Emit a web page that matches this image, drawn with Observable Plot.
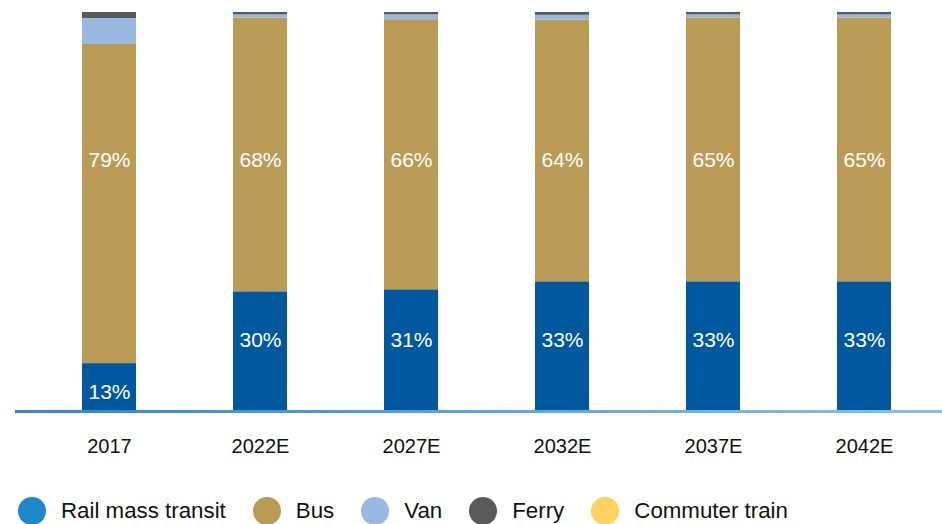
<!DOCTYPE html>
<html>
<head>
<meta charset="utf-8">
<script src="https://cdn.jsdelivr.net/npm/d3@7"></script>
<script src="https://cdn.jsdelivr.net/npm/@observablehq/plot@0.6"></script>
<style>
  html, body { margin: 0; padding: 0; background: #fff; }
  body { width: 942px; height: 524px; overflow: hidden; font-family: "Liberation Sans", Arial, Helvetica, sans-serif; }
  #legend { display: flex; align-items: center; height: 28px; margin-left: 18px; font-size: 22.3px; color: #111; }
  .item { display: flex; align-items: center; margin-right: 27px; white-space: nowrap; }
  .dot { width: 28px; height: 28px; border-radius: 50%; margin-right: 15px; flex: none; }
</style>
</head>
<body>
<div id="chart"></div>
<div id="legend"></div>
<script>
// ---- Data (shares of trips, %) ----
const years = ["2017", "2022E", "2027E", "2032E", "2037E", "2042E"];
const modes = ["Rail mass transit", "Bus", "Van", "Ferry", "Commuter train"];
const rail     = [12, 30, 30.5, 32.5, 32.5, 32.5];
const bus      = [80, 68.6, 67.7, 65.6, 66.1, 66.1];
const van      = [6.5, 0.8, 1.2, 1.2, 0.8, 0.8];
const ferry    = [1.5, 0.6, 0.6, 0.7, 0.6, 0.6];
const commuter = [0, 0, 0, 0, 0, 0];
const railLabels = ["13%", "30%", "31%", "33%", "33%", "33%"];
const busLabels  = ["79%", "68%", "66%", "64%", "65%", "65%"];

const barColors    = ["#00589f", "#b99b55", "#98b8e2", "#58595b", "#ffd15f"];
const legendColors = ["#2088c9", "#b99b55", "#98b8e2", "#58595b", "#ffd15f"];

// tidy table
const series = [rail, bus, van, ferry, commuter];
const table = [];
years.forEach((y, i) => {
  modes.forEach((m, j) => {
    if (series[j][i] > 0) table.push({year: y, mode: m, value: series[j][i]});
  });
});
const labelRows = years.map((y, i) => ({
  year: y, rail: rail[i], railLabel: railLabels[i], busLabel: busLabels[i]
}));

const chart = Plot.plot({
  width: 942,
  height: 497,
  marginTop: 12,
  marginBottom: 86,
  marginLeft: 15,
  marginRight: 0,
  style: {fontFamily: "'Liberation Sans', Arial, Helvetica, sans-serif", background: "#fff"},
  x: {domain: years, range: [80.5, 891.5], paddingInner: 0.644, paddingOuter: 0, label: null},
  y: {domain: [0, 100], axis: null},
  color: {domain: modes, range: barColors},
  marks: [
    Plot.barY(table, Plot.stackY({
      x: "year", y: "value", fill: "mode", order: modes
    })),
    Plot.ruleY([0], {stroke: "url(#baseGrad)", strokeWidth: 3}),
    Plot.text(labelRows, {
      x: "year", y: d => (d.rail < 20 ? d.rail * 0.4 : 17.75), text: "railLabel",
      fill: "white", fontSize: 21
    }),
    Plot.text(labelRows, {
      x: "year", y: () => 63, text: "busLabel",
      fill: "white", fontSize: 21
    }),
    Plot.axisX({tickSize: 0, tickPadding: 27, fontSize: 20, fill: "#111", label: null})
  ]
});

// horizontal gradient for the baseline
d3.select(chart).insert("defs", ":first-child").html(
  '<linearGradient id="baseGrad" gradientUnits="userSpaceOnUse" x1="15" y1="0" x2="942" y2="0">' +
  '<stop offset="0" stop-color="#3486cc"/><stop offset="1" stop-color="#86c0ea"/></linearGradient>'
);

document.getElementById("chart").appendChild(chart);

// legend
const legend = document.getElementById("legend");
modes.forEach((m, i) => {
  const item = document.createElement("div");
  item.className = "item";
  const dot = document.createElement("span");
  dot.className = "dot";
  dot.style.background = legendColors[i];
  const label = document.createElement("span");
  label.textContent = m;
  item.appendChild(dot);
  item.appendChild(label);
  legend.appendChild(item);
});
</script>
</body>
</html>
